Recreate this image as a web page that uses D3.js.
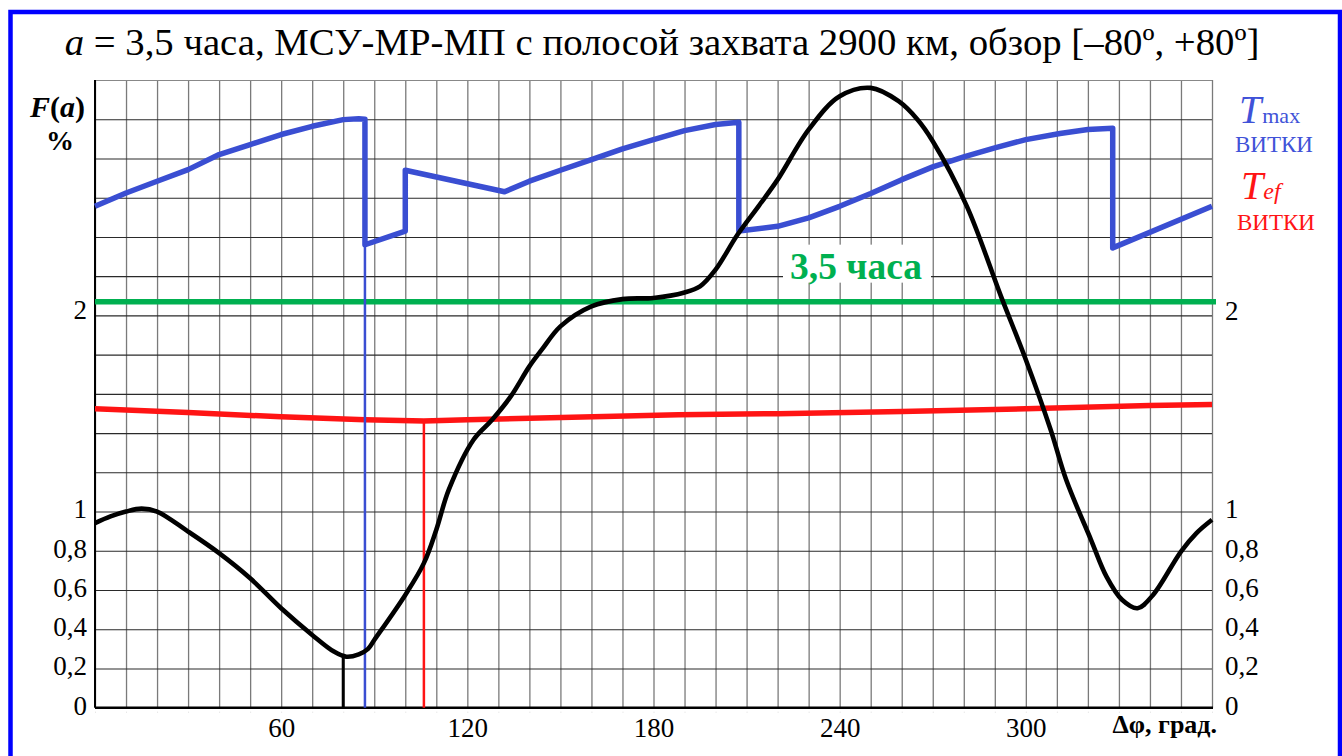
<!DOCTYPE html>
<html><head><meta charset="utf-8">
<script src="https://cdn.jsdelivr.net/npm/d3@7"></script>
<style>
html,body{margin:0;padding:0;background:#fff;}
svg{display:block;font-family:"Liberation Serif","Times New Roman",serif;}
</style></head>
<body><svg id="c" width="1342" height="756"></svg>
<script>
// ---- data ----
const titleRest = " = 3,5 часа, МСУ-МР-МП с полосой захвата 2900 км, обзор [–80º, +80º]";
const xTickValues = [60, 120, 180, 240, 300];
const yTickValues = [0, 0.2, 0.4, 0.6, 0.8, 1, 2];
const yTickLabels = ["0", "0,2", "0,4", "0,6", "0,8", "1", "2"];
const thresholdValue = 2.07;          // "3,5 часа" level
const thresholdLabel = "3,5 часа";

// F(a), %  (black curve)
const fDeg = [0,5,10,15,20,30,40,50,60,70,77,81,85,88,90,100,106,110,114,122,128,134,140,144,150,160,170,180,190,195,200,207,214,220,230,240,250,259,265,270,281,292,300,308,313,321,326,331,336,341,350,355,360];
const fVal = [0.941,0.975,1.0,1.015,1.0,0.898,0.788,0.66,0.507,0.371,0.286,0.26,0.272,0.3,0.345,0.575,0.737,0.907,1.11,1.366,1.468,1.587,1.74,1.825,1.944,2.046,2.083,2.089,2.117,2.148,2.233,2.41,2.56,2.692,2.947,3.117,3.16,3.092,3.0,2.888,2.556,2.097,1.774,1.417,1.162,0.856,0.668,0.55,0.507,0.575,0.796,0.89,0.958];

// T max (blue)
const tmaxDeg = [0,10,20,30,40,50,60,70,80,85,87,87,100,100,132,140,150,160,170,180,190,200,207.5,207.5,220,230,240,250,260,270,280,290,300,311,320,328,328,360];
const tmaxVal = [2.556,2.624,2.684,2.743,2.82,2.871,2.922,2.964,2.998,3.002,3.0,2.36,2.43,2.74,2.63,2.684,2.74,2.794,2.849,2.896,2.942,2.973,2.985,2.43,2.454,2.497,2.556,2.621,2.692,2.757,2.808,2.854,2.896,2.927,2.948,2.954,2.344,2.556];

// T ef (red)
const tefDeg = [0,30,60,87,106,120,140,188,220,260,300,340,360];
const tefVal = [1.524,1.505,1.483,1.468,1.461,1.468,1.476,1.493,1.499,1.51,1.524,1.541,1.546];

// vertical markers: [deg, top value]
const markerMin = [80, 0.26];
const markerTmax = [87, 2.36];
const markerTef = [106, 1.461];

// ---- drawing ----
const svg = d3.select("#c");
const X0 = 95, X1 = 1212, Y0 = 707.7, Y1 = 80;
const x = d3.scaleLinear().domain([0, 360]).range([X0, X1]);
const y = d3.scaleLinear().domain([0, 3.2]).range([Y0, Y1]);

const blue = "#3a4ed2", red = "#ff1414", green = "#00b050";

// frame
svg.append("rect").attr("x", 10.5).attr("y", 12).attr("width", 1329.5).attr("height", 800)
  .attr("fill", "none").attr("stroke", "#0000ff").attr("stroke-width", 4.5);

// title
const title = svg.append("text").attr("x", 662).attr("y", 55).attr("text-anchor", "middle")
  .attr("font-size", 33).attr("fill", "#000");
title.append("tspan").attr("font-style", "italic").text("a");
title.append("tspan").text(titleRest);
const tl = title.node().getComputedTextLength();
title.attr("font-size", 33 * 1195 / tl);

// grid: vertical
const gv = svg.append("g").attr("transform", `translate(0,${Y0})`)
  .call(d3.axisBottom(x).tickValues(d3.range(0, 361, 10)).tickSize(-(Y0 - Y1)).tickFormat(""));
gv.select(".domain").remove();
gv.selectAll("line").attr("stroke", "#7a7a7a").attr("stroke-width", 1.3);
// grid: horizontal
const gh = svg.append("g").attr("transform", `translate(${X0},0)`)
  .call(d3.axisLeft(y).tickValues(d3.range(0, 3.21, 0.2)).tickSize(-(X1 - X0)).tickFormat(""));
gh.select(".domain").remove();
gh.selectAll("line").attr("stroke", "#2a2a2a").attr("stroke-width", 1.1);
gh.selectAll(".tick").filter(d => Math.abs(d - 3.2) < 1e-6).select("line").attr("stroke", "#888");

// axes lines
svg.append("line").attr("x1", X0).attr("x2", X1 + 1).attr("y1", Y0).attr("y2", Y0)
  .attr("stroke", "#000").attr("stroke-width", 2.5);
svg.append("line").attr("x1", X0).attr("x2", X0).attr("y1", Y1).attr("y2", Y0)
  .attr("stroke", "#000").attr("stroke-width", 2);

// small ticks under the x axis
const tk = svg.append("g").attr("transform", `translate(0,${Y0})`)
  .call(d3.axisBottom(x).tickValues(d3.range(0, 361, 10)).tickSize(5).tickFormat(""));
tk.select(".domain").remove();
tk.selectAll("line").attr("stroke", "#ddd").attr("stroke-width", 1).attr("y1", 4);

// x labels
const ax = svg.append("g").attr("transform", `translate(0,${Y0})`)
  .call(d3.axisBottom(x).tickValues(xTickValues).tickSize(0));
ax.select(".domain").remove();
ax.selectAll("text").attr("y", 29).attr("dy", 0).attr("font-size", 27)
  .attr("font-family", "Liberation Serif").attr("fill", "#000");

// y labels left
const ayl = svg.append("g").attr("transform", `translate(${X0},0)`)
  .call(d3.axisLeft(y).tickValues(yTickValues).tickFormat((d, i) => yTickLabels[i]).tickSize(0));
ayl.select(".domain").remove();
ayl.selectAll("text").attr("x", -8).attr("y", d => d === 2 ? -6 : -3).attr("dy", "0.35em").attr("font-size", 27)
  .attr("font-family", "Liberation Serif").attr("fill", "#000");
// y labels right
const ayr = svg.append("g").attr("transform", `translate(${X1},0)`)
  .call(d3.axisRight(y).tickValues(yTickValues).tickFormat((d, i) => yTickLabels[i]).tickSize(0));
ayr.select(".domain").remove();
ayr.selectAll("text").attr("x", 13).attr("y", d => d === 2 ? -5 : -3).attr("dy", "0.35em").attr("font-size", 27)
  .attr("font-family", "Liberation Serif").attr("fill", "#000");

// threshold line
svg.append("line").attr("x1", X0).attr("x2", X1 + 4).attr("y1", y(thresholdValue)).attr("y2", y(thresholdValue))
  .attr("stroke", green).attr("stroke-width", 5.5);

// threshold label with white box
svg.append("rect").attr("x", 783).attr("y", y(thresholdValue) - 57).attr("width", 148).attr("height", 38).attr("fill", "#fff");
svg.append("text").attr("x", 790).attr("y", y(thresholdValue) - 23).attr("font-size", 37.5).attr("font-weight", "bold")
  .attr("fill", green).text(thresholdLabel);

const line = d3.line().x(d => x(d[0])).y(d => y(d[1]));

// red Tef
svg.append("path").datum(tefDeg.map((d, i) => [d, tefVal[i]])).attr("d", line)
  .attr("fill", "none").attr("stroke", red).attr("stroke-width", 5.5);
svg.append("line").attr("x1", x(markerTef[0])).attr("x2", x(markerTef[0])).attr("y1", y(markerTef[1])).attr("y2", Y0)
  .attr("stroke", red).attr("stroke-width", 2.5);

// blue Tmax
svg.append("path").datum(tmaxDeg.map((d, i) => [d, tmaxVal[i]])).attr("d", line)
  .attr("fill", "none").attr("stroke", blue).attr("stroke-width", 5.5).attr("stroke-linejoin", "round");
svg.append("line").attr("x1", x(markerTmax[0])).attr("x2", x(markerTmax[0])).attr("y1", y(markerTmax[1])).attr("y2", Y0)
  .attr("stroke", blue).attr("stroke-width", 2.5);

// black F(a)
svg.append("path").datum(fDeg.map((d, i) => [d, fVal[i]]))
  .attr("d", d3.line().x(d => x(d[0])).y(d => y(d[1])).curve(d3.curveCatmullRom.alpha(0.5)))
  .attr("fill", "none").attr("stroke", "#000").attr("stroke-width", 4.6).attr("stroke-linejoin", "round");
svg.append("line").attr("x1", x(markerMin[0])).attr("x2", x(markerMin[0])).attr("y1", y(markerMin[1])).attr("y2", Y0)
  .attr("stroke", "#000").attr("stroke-width", 3);

// y axis title
const fa = svg.append("text").attr("x", 30).attr("y", 117).attr("font-size", 30).attr("font-weight", "bold");
fa.append("tspan").attr("font-style", "italic").text("F");
fa.append("tspan").text("(");
fa.append("tspan").attr("font-style", "italic").text("a");
fa.append("tspan").text(")");
svg.append("text").attr("x", 46).attr("y", 150).attr("font-size", 28).attr("font-weight", "bold").text("%");

// x axis title
svg.append("text").attr("x", 1217).attr("y", 733).attr("text-anchor", "end").attr("font-size", 26)
  .attr("font-weight", "bold").text("Δφ, град.");

// legend
const lg1 = svg.append("text").attr("x", 1239).attr("y", 123).attr("fill", "#4052d8");
lg1.append("tspan").attr("font-style", "italic").attr("font-size", 40).text("T");
lg1.append("tspan").attr("font-size", 22).attr("dx", 1).text("max");
svg.append("text").attr("x", 1235).attr("y", 152).attr("fill", "#4052d8").attr("font-size", 23).text("ВИТКИ");
const lg2 = svg.append("text").attr("x", 1241).attr("y", 199).attr("fill", red);
lg2.append("tspan").attr("font-style", "italic").attr("font-size", 40).text("T");
lg2.append("tspan").attr("font-style", "italic").attr("font-size", 24).text("ef");
svg.append("text").attr("x", 1237).attr("y", 230).attr("fill", red).attr("font-size", 23).text("ВИТКИ");
</script></body></html>
